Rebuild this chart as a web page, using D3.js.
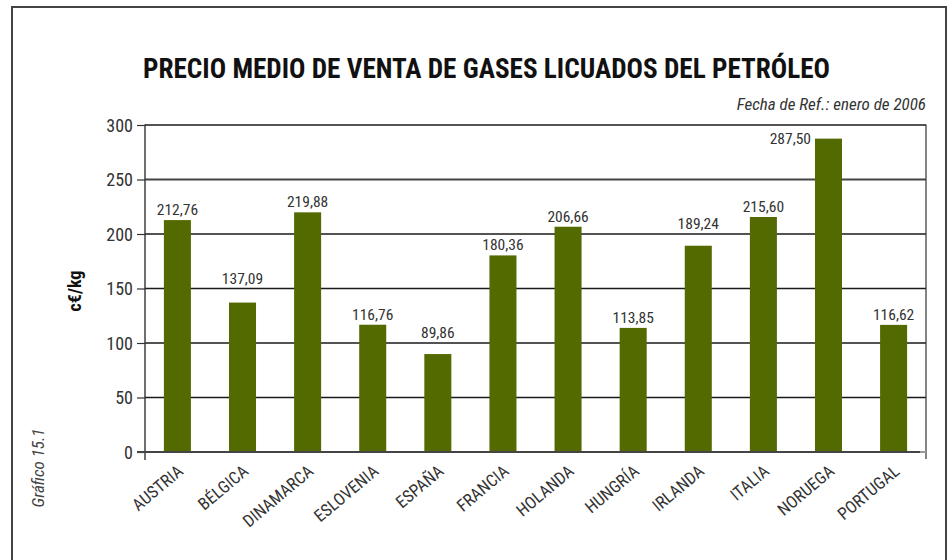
<!DOCTYPE html>
<html>
<head>
<meta charset="utf-8">
<script src="https://cdn.jsdelivr.net/npm/d3@7/dist/d3.min.js"></script>
<style>
  html, body { margin: 0; padding: 0; background: #fff; }
  svg { display: block; }
  text { font-family: "Liberation Sans Narrow", "Arial Narrow", "Roboto Condensed", sans-serif; }
</style>
</head>
<body>
<svg id="chart" width="952" height="560"></svg>
<script>
// Average selling price of LPG by country (c€/kg), January 2006
const countries = ["AUSTRIA", "BÉLGICA", "DINAMARCA", "ESLOVENIA", "ESPAÑA", "FRANCIA",
                   "HOLANDA", "HUNGRÍA", "IRLANDA", "ITALIA", "NORUEGA", "PORTUGAL"];
const prices = [212.76, 137.09, 219.88, 116.76, 89.86, 180.36,
                206.66, 113.85, 189.24, 215.60, 287.50, 116.62];
const yTicks = [0, 50, 100, 150, 200, 250, 300];

const titleText = "PRECIO MEDIO DE VENTA DE GASES LICUADOS DEL PETRÓLEO";
const refText = "Fecha de Ref.: enero de 2006";
const unitText = "c€/kg";
const figText = "Gráfico 15.1";

const svg = d3.select("#chart");
const margin = { left: 145, right: 926, top: 125, bottom: 452 };
const labelFont = "'Liberation Sans Narrow', 'Arial Narrow', 'Roboto Condensed', sans-serif";

const fmt = v => d3.format(".2f")(v).replace(".", ",");

const x = d3.scaleBand().domain(countries)
  .range([margin.left, margin.right]).paddingInner(0.585).paddingOuter(0.29);
const y = d3.scaleLinear().domain([0, 300]).range([margin.bottom, margin.top]);

// Outer frame
svg.append("rect")
  .attr("x", 12).attr("y", 7).attr("width", 934).attr("height", 600)
  .attr("fill", "none").attr("stroke", "#444").attr("stroke-width", 2);

// Title
svg.append("text")
  .attr("x", 143).attr("y", 78)
  .attr("textLength", 687).attr("lengthAdjust", "spacingAndGlyphs")
  .attr("font-size", 27).attr("font-weight", "bold").attr("fill", "#111")
  .text(titleText);

// Reference date
svg.append("text")
  .attr("x", 926).attr("y", 110).attr("text-anchor", "end")
  .attr("font-size", 17).attr("font-style", "italic").attr("fill", "#333")
  .text(refText);

// Horizontal gridlines
svg.append("g").selectAll("line").data(yTicks.filter(d => d > 0)).join("line")
  .attr("x1", margin.left).attr("x2", margin.right)
  .attr("y1", d => y(d)).attr("y2", d => y(d))
  .attr("stroke", d => d === 250 ? "#444" : "#1a1a1a")
  .attr("stroke-width", d => d === 250 ? 2 : 1.4);

// Right frame edge of the plot
svg.append("line")
  .attr("x1", margin.right).attr("x2", margin.right)
  .attr("y1", margin.top - 0.5).attr("y2", margin.bottom + 7)
  .attr("stroke", "#333").attr("stroke-width", 1.2);

// Y axis
const yAxis = d3.axisLeft(y).tickValues(yTicks).tickSize(8).tickPadding(4);
const gy = svg.append("g").attr("transform", `translate(${margin.left},0)`).call(yAxis);
gy.select(".domain").remove();
gy.selectAll(".tick line").attr("stroke", "#333").attr("stroke-width", 1.2);
gy.selectAll(".tick text").attr("font-size", 18).attr("fill", "#333")
  .attr("font-family", labelFont)
  .attr("dy", "0.34em");
svg.append("line")
  .attr("x1", margin.left).attr("x2", margin.left)
  .attr("y1", margin.top - 0.5).attr("y2", margin.bottom + 8)
  .attr("stroke", "#333").attr("stroke-width", 1.4);

// Bars
svg.append("g").selectAll("rect").data(countries).join("rect")
  .attr("x", d => x(d)).attr("width", x.bandwidth())
  .attr("y", (d, i) => y(prices[i]))
  .attr("height", (d, i) => y(0) - y(prices[i]))
  .attr("fill", "#526a00");

// Zero baseline
svg.append("line")
  .attr("x1", margin.left - 8).attr("x2", margin.right - 6)
  .attr("y1", y(0)).attr("y2", y(0))
  .attr("stroke", "#444").attr("stroke-width", 2);
svg.append("line")
  .attr("x1", margin.right - 6).attr("x2", margin.right)
  .attr("y1", y(0)).attr("y2", y(0))
  .attr("stroke", "#999").attr("stroke-width", 2);

// Value labels: sit just above the bar, lifted over a gridline they would cross,
// and beside the bar when it reaches the top of the plot
const capH = 11, gap = 5;
const nearTop = i => y(prices[i]) - 22 < margin.top;
const labelBaseline = i => {
  let b = y(prices[i]) - gap;
  const hit = yTicks.map(y).find(g => g >= b - capH - 1 && g <= b + 1);
  if (hit !== undefined) b = hit - gap;
  return b;
};
svg.append("g").selectAll("text").data(countries).join("text")
  .attr("x", (d, i) => nearTop(i) ? x(d) - 4 : x(d) + x.bandwidth() / 2)
  .attr("y", (d, i) => nearTop(i) ? y(prices[i]) + 5 : labelBaseline(i))
  .attr("text-anchor", (d, i) => nearTop(i) ? "end" : "middle")
  .attr("font-size", 15.5).attr("fill", "#333")
  .text((d, i) => fmt(prices[i]));

// X axis category labels
const xAxis = d3.axisBottom(x).tickSize(0).tickPadding(0);
const gx = svg.append("g").attr("transform", `translate(0,${margin.bottom})`).call(xAxis);
gx.select(".domain").remove();
gx.selectAll(".tick text")
  .attr("font-size", 17).attr("fill", "#333")
  .attr("font-family", labelFont)
  .attr("text-anchor", "end")
  .attr("dy", 0).attr("y", 0)
  .attr("transform", "translate(7,21) rotate(-40)");

// Unit label
svg.append("text")
  .attr("transform", "translate(81,291) rotate(-90)")
  .attr("text-anchor", "middle")
  .attr("font-size", 18).attr("font-weight", "bold").attr("fill", "#111")
  .text(unitText);

// Figure number
svg.append("text")
  .attr("transform", "translate(44,468) rotate(-90)")
  .attr("text-anchor", "middle")
  .attr("font-size", 17).attr("font-style", "italic").attr("fill", "#444")
  .text(figText);
</script>
</body>
</html>
